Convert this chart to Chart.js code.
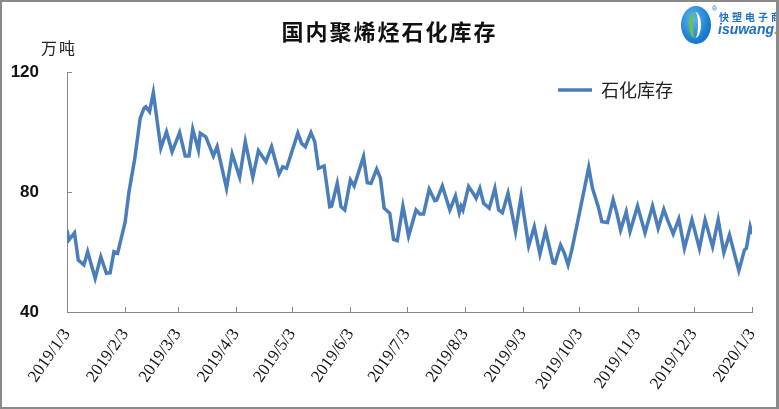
<!DOCTYPE html>
<html>
<head>
<meta charset="utf-8">
<script src="https://cdn.jsdelivr.net/npm/chart.js@4.4.0/dist/chart.umd.min.js"></script>
<style>
    html, body { margin: 0; padding: 0; background: #fff; }
    #wrap { position: relative; width: 779px; height: 409px; overflow: hidden; }
    #frame { position: absolute; left: 0; top: 0; width: 779px; height: 409px; box-sizing: border-box;
             border: 2px solid #8a8a8a; border-right-width: 3px; pointer-events: none; }
    #title { position: absolute; left: 0; width: 779px; top: 14px; text-align: center;
             font: bold 22px "Noto Sans CJK SC", sans-serif; letter-spacing: 2px; color: #111; }
    #unit { position: absolute; left: 41px; top: 35px; font: 16px "Noto Sans CJK SC", sans-serif;
            letter-spacing: 2px; color: #222; }
    #logo { position: absolute; left: 681px; top: 6px; width: 30px; height: 38px; border-radius: 50%;
            background: radial-gradient(ellipse at 40% 35%, #5fb8f0 0%, #1c7fd0 60%, #0d5fab 100%); }
    #logo .leaf { position: absolute; left: 8px; top: 6px; width: 12px; height: 26px; border-radius: 50%;
                  border-left: 4px solid #6cc24a; border-right: 3px solid #fff; box-sizing: border-box; }
    #logo1 { position: absolute; left: 719px; top: 9px; font: bold 10px "Noto Sans CJK SC", sans-serif;
             color: #1a6fc6; letter-spacing: 3px; white-space: nowrap; }
    #logo2 { position: absolute; left: 718px; top: 21px; font: italic bold 14px "Liberation Sans", sans-serif;
             color: #1a6fc6; white-space: nowrap; }
    #logo2 span { color: #f08a1c; }
    #reg { position: absolute; left: 712px; top: 5px; font: 7px "Liberation Sans", sans-serif; color: #1a6fc6; }
</style>
</head>
<body>
<div id="wrap">
    <canvas id="stockChart" width="779" height="409"></canvas>
    <div id="title">国内聚烯烃石化库存</div>
    <div id="unit">万吨</div>
    <div id="logo"><div class="leaf"></div></div>
    <div id="reg">®</div>
    <div id="logo1">快塑电子商</div>
    <div id="logo2">isuwang<span>.co</span></div>
    <div id="frame"></div>
</div>
<script>
// 数据：距 2019/1/3 的天数 与 库存(万吨)
const dayOffsets = [
    0, 1, 4, 6, 9, 11, 15, 18, 21, 23, 25, 27, 28, 31, 33, 36, 39, 41, 42, 44,
    46, 50, 53, 56, 60, 63, 65, 67, 70, 71, 74, 78, 80, 85, 88, 92, 95, 99, 102, 106,
    109, 113, 115, 117, 123, 125, 127, 130, 132, 134, 137, 140, 141, 144, 146, 148, 151, 153, 158, 160,
    162, 165, 167, 169, 172, 174, 176, 179, 182, 186, 188, 190, 193, 196, 197, 200, 204, 207, 209, 210,
    211, 214, 217, 218, 220, 222, 225, 228, 230, 232, 235, 239, 242, 246, 249, 252, 255, 259, 260, 263,
    265, 267, 269, 273, 278, 280, 283, 285, 288, 291, 293, 295, 298, 300, 304, 308, 312, 315, 318, 320,
    323, 326, 329, 333, 337, 340, 344, 347, 350, 353, 358, 361, 362, 364, 365
];
const stockValues = [
    67.3, 64, 66.4, 57.3, 55.7, 60.1, 51.2, 58.4, 52.9, 53.1, 60.1, 59.6, 62.3, 70, 80, 90.7, 104.6, 107.9, 108.4, 106.8,
    113.1, 94.6, 100.1, 93.4, 99.8, 92, 92, 100.9, 94, 99.6, 98.4, 92, 95.1, 81.2, 92.7, 84.9, 96.8, 84.9, 93.8, 90.1,
    95.1, 86, 88.4, 87.9, 99.6, 96.2, 95.1, 99.8, 96.8, 87.9, 88.7, 75.1, 75.3, 82.9, 75.1, 74, 84, 82, 91.8, 83.1,
    82.9, 87.6, 84.6, 74.6, 72.9, 64.2, 63.8, 75.3, 65.3, 74, 72.7, 72.7, 80.9, 77.1, 77.3, 82, 74, 78.7, 73.1, 75.3,
    74, 81.8, 79, 77.9, 81.2, 76.2, 74.6, 81.2, 74, 73.1, 79.6, 66.8, 78.7, 62, 68.4, 59.3, 67.1, 56.4, 56.2, 62.3,
    59.6, 55.7, 60.7, 72.8, 88.2, 81.2, 75.3, 70.1, 69.8, 77.4, 72.9, 67.3, 73.4, 66.8, 75.3, 66.4, 75.3, 67.9, 74.2, 70.7,
    66, 71, 61.2, 70.7, 61.2, 70.7, 61.8, 70.7, 59.8, 65.7, 53.8, 60.7, 61.2, 68.4, 66
];
const monthTicks = [0, 31, 59, 90, 120, 151, 181, 212, 243, 273, 304, 334, 365];
const monthLabels = [
    '2019/1/3', '2019/2/3', '2019/3/3', '2019/4/3', '2019/5/3', '2019/6/3', '2019/7/3',
    '2019/8/3', '2019/9/3', '2019/10/3', '2019/11/3', '2019/12/3', '2020/1/3'
];
const yTicks = [40, 80, 120];
const seriesName = '石化库存';

const lineColor = '#4a7ebb';
const axisColor = '#868686';

// 刻度线朝内 + 图例
const innerTicks = {
    id: 'innerTicks',
    afterDraw(chart) {
        const { ctx, chartArea, scales } = chart;
        ctx.save();
        ctx.strokeStyle = axisColor;
        ctx.lineWidth = 1;
        ctx.beginPath();
        monthTicks.forEach(v => {
            const px = Math.round(scales.x.getPixelForValue(v)) + 0.5;
            ctx.moveTo(px, chartArea.bottom);
            ctx.lineTo(px, chartArea.bottom - 5);
        });
        yTicks.forEach(v => {
            const py = Math.round(scales.y.getPixelForValue(v)) + 0.5;
            ctx.moveTo(chartArea.left, py);
            ctx.lineTo(chartArea.left + 5, py);
        });
        ctx.stroke();

        // 图例
        ctx.strokeStyle = lineColor;
        ctx.lineWidth = 3.5;
        ctx.beginPath();
        ctx.moveTo(558, 90);
        ctx.lineTo(592, 90);
        ctx.stroke();
        ctx.fillStyle = '#222';
        ctx.font = '18px "Noto Sans CJK SC"';
        ctx.textBaseline = 'middle';
        ctx.fillText(seriesName, 601, 90);
        ctx.restore();
    }
};

new Chart(document.getElementById('stockChart'), {
    type: 'line',
    data: {
        datasets: [{
            label: seriesName,
            data: dayOffsets.map((d, i) => ({ x: d, y: stockValues[i] })),
            borderColor: lineColor,
            borderWidth: 3.5,
            pointRadius: 0,
            tension: 0,
            fill: false
        }]
    },
    options: {
        responsive: false,
        animation: false,
        layout: { padding: { left: 0, top: 72, right: 27, bottom: 0 } },
        plugins: {
            legend: { display: false },
            tooltip: { enabled: false }
        },
        scales: {
            x: {
                type: 'linear',
                min: 0,
                max: 365,
                grid: { display: false },
                border: { color: axisColor, width: 1 },
                afterBuildTicks: scale => { scale.ticks = monthTicks.map(v => ({ value: v })); },
                afterFit: scale => { scale.height = 97; },
                ticks: {
                    autoSkip: false,
                    minRotation: 55,
                    maxRotation: 55,
                    padding: 5,
                    color: '#111',
                    font: { family: '"Liberation Serif"', size: 17 },
                    callback: v => monthLabels[monthTicks.indexOf(v)]
                }
            },
            y: {
                min: 40,
                max: 120,
                grid: { display: false },
                border: { color: axisColor, width: 1 },
                afterBuildTicks: scale => { scale.ticks = yTicks.map(v => ({ value: v })); },
                afterFit: scale => { scale.width = 67; },
                ticks: {
                    padding: 20,
                    color: '#111',
                    font: { family: '"Liberation Sans"', size: 17, weight: 'bold' }
                }
            }
        }
    },
    plugins: [innerTicks]
});
</script>
</body>
</html>
